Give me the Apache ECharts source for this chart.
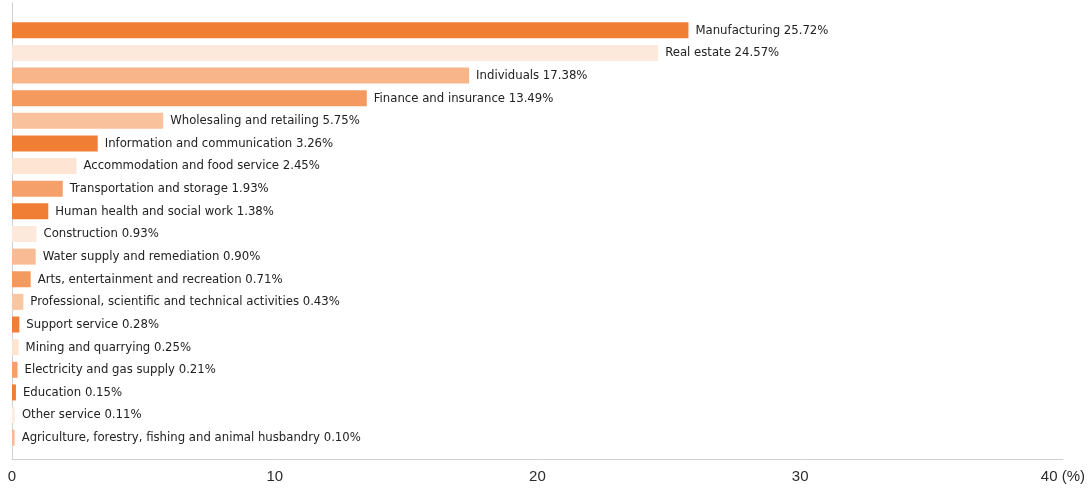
<!DOCTYPE html>
<html><head><meta charset="utf-8">
<script src="https://cdn.jsdelivr.net/npm/echarts@6/dist/echarts.min.js"></script>
<style>html,body{margin:0;padding:0;background:#fff}#c{width:1088px;height:489px}</style>
</head><body><div id="c"></div>
<script>
const categories = ["Manufacturing","Real estate","Individuals","Finance and insurance","Wholesaling and retailing","Information and communication","Accommodation and food service","Transportation and storage","Human health and social work","Construction","Water supply and remediation","Arts, entertainment and recreation","Professional, scientific and technical activities","Support service","Mining and quarrying","Electricity and gas supply","Education","Other service","Agriculture, forestry, fishing and animal husbandry"];
const values = [25.72,24.57,17.38,13.49,5.75,3.26,2.45,1.93,1.38,0.93,0.90,0.71,0.43,0.28,0.25,0.21,0.15,0.11,0.10];
const barColors = ["#F07F35","#FDE9DB","#F8B58A","#F49A5F","#F9C29D","#F07F35","#FDE4D3","#F5A06A","#F07F35","#FDE9DB","#F9BB93","#F49A5F","#F9C6A2","#F07F35","#FDE4D3","#F5A06A","#F07F35","#FDEEE3","#F9BB93"];
const xTicks = [0,10,20,30,40];

const chart = echarts.init(document.getElementById('c'));
chart.setOption({
  animation:false,
  grid:[
    {left:12,right:24,top:3,height:456,containLabel:false},
    {left:12,right:24,top:19,height:430,containLabel:false}
  ],
  xAxis:[
    {gridIndex:0,type:'value',min:0,max:40,interval:10,
     axisLine:{show:true,lineStyle:{color:'#d0d0d0',width:1}},
     axisTick:{show:false},splitLine:{show:false},
     axisLabel:{color:'#2b2b2b',fontSize:15,fontFamily:'Liberation Sans',margin:10,
       formatter:v=> v===xTicks[xTicks.length-1] ? v+' (%)' : String(v)}},
    {gridIndex:1,type:'value',min:0,max:40,show:false}
  ],
  yAxis:[
    {gridIndex:0,type:'value',min:0,max:1,axisLine:{show:true,lineStyle:{color:'#d0d0d0',width:1}},
     axisTick:{show:false},axisLabel:{show:false},splitLine:{show:false}},
    {gridIndex:1,type:'category',data:categories,inverse:true,show:false}
  ],
  series:[{
    type:'bar',xAxisIndex:1,yAxisIndex:1,barWidth:16,
    data: values.map((v,i)=>({value:v,itemStyle:{color:barColors[i]}})),
    label:{show:true,position:'right',distance:7,color:'#222',fontSize:13,fontFamily:"'DejaVu Sans Condensed', Roboto, sans-serif",
      formatter:p=> p.name+' '+p.value.toFixed(2)+'%'}
  }]
});
</script></body></html>
